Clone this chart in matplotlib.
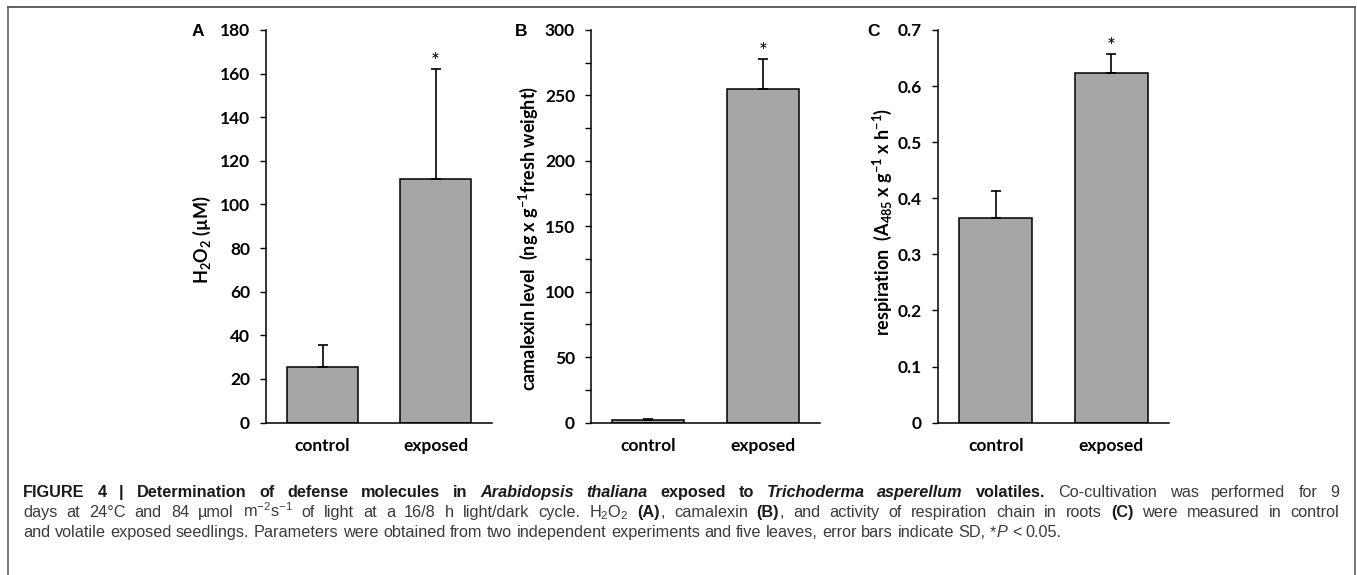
import matplotlib
matplotlib.use("Agg")
import matplotlib.pyplot as plt
from matplotlib.lines import Line2D
from matplotlib.ticker import MultipleLocator

# values
categories = ['control', 'exposed']
h2o2 = [25.3, 111.8]
h2o2_sd = [10.4, 50.3]
camalexin = [1.8, 254.8]
camalexin_sd = [1.2, 23.0]
respiration = [0.365, 0.623]
respiration_sd = [0.047, 0.034]
significant = [False, True]

W, H = 1357, 575
plt.rcParams['mathtext.default'] = 'regular'
plt.rcParams['axes.linewidth'] = 1.1

fig = plt.figure(figsize=(W / 100, H / 100), dpi=100)
fig.patch.set_facecolor('white')

lab_font = dict(family=['Lato', 'DejaVu Sans'], weight='bold', size=12.5)
ylab_font = dict(family=['Lato', 'DejaVu Sans'], weight='bold', size=13)
bar_color = '#a6a6a6'


#draw one bar panel with upward error bars and asterisks
def panel(rect, values, sds, ymax, step, minor, ylabel, label_x, label_y, letter_x):
    ax = fig.add_axes(rect)
    x = list(range(len(categories)))
    ax.bar(x, values, width=0.63, color=bar_color, edgecolor='black', linewidth=1.1, zorder=2)
    ax.errorbar(x, values, yerr=[[0] * len(values), sds], fmt='none', ecolor='black',
                elinewidth=1.2, capsize=3.5, capthick=1.2, zorder=3)
    for i in range(len(values)):
        if significant[i]:
            ax.annotate('*', (x[i], values[i] + sds[i]), xytext=(0, -2), textcoords='offset points',
                        ha='center', va='bottom', fontsize=15, family=['Lato', 'DejaVu Sans'])
    ax.set_xlim(-0.5, 1.5)
    ax.set_ylim(0, ymax)
    ax.yaxis.set_major_locator(MultipleLocator(step))
    if minor:
        ax.yaxis.set_minor_locator(MultipleLocator(minor))
    ax.set_xticks(x)
    ax.set_xticklabels(categories, **lab_font)
    for t in ax.get_yticklabels():
        t.set_fontproperties(matplotlib.font_manager.FontProperties(**lab_font))
    ax.tick_params(axis='x', length=0, pad=11)
    ax.tick_params(axis='y', which='both', direction='out', length=4.5, width=1, pad=7)
    ax.spines['top'].set_visible(False)
    ax.spines['right'].set_visible(False)
    ax.spines['bottom'].set_zorder(4)
    fig.text(label_x / W, 1 - label_y / H, ylabel, rotation=90, ha='center', va='center', **ylab_font)
    fig.text(letter_x / W, 1 - 32 / H, letter, ha='center', va='center',
             family=['Liberation Sans', 'DejaVu Sans'], weight='bold', size=12.5)
    return ax


bottom, height = 0.265, 0.683
letter = 'A'
axA = panel([266 / W, bottom, 226 / W, height], h2o2, h2o2_sd, 180, 20, None,
            r'H$_2$O$_2$ (µM)', 202, 240, 198)
letter = 'B'
axB = panel([591 / W, bottom, 229 / W, height], camalexin, camalexin_sd, 300, 50, 25,
            r'camalexin level  (ng x g$^{-1}$fresh weight)', 528, 238, 521)
letter = 'C'
axC = panel([938 / W, bottom, 231 / W, height], respiration, respiration_sd, 0.7, 0.1, None,
            r'respiration  (A$_{485}$ x g$^{-1}$ x h$^{-1}$)', 882, 222, 874)
axC.set_yticks([0, 0.1, 0.2, 0.3, 0.4, 0.5, 0.6, 0.7])
axC.set_yticklabels(['0', '0.1', '0.2', '0.3', '0.4', '0.5', '0.6', '0.7'], **lab_font)

# frame round the figure
frame = '#606060'
fig.add_artist(Line2D([7.5 / W, 1354.5 / W], [1 - 6.5 / H, 1 - 6.5 / H], color=frame, lw=1.4,
                      transform=fig.transFigure))
fig.add_artist(Line2D([7.5 / W, 7.5 / W], [1 - 6.5 / H, 0], color=frame, lw=1.2,
                      transform=fig.transFigure))
fig.add_artist(Line2D([1354.5 / W, 1354.5 / W], [1 - 6.5 / H, 0], color=frame, lw=1.2,
                      transform=fig.transFigure))

# caption, built from styled runs
cap_size = 11.7
styles = {
    'b': dict(weight='bold', style='normal', color='#1a1a1a'),
    'bi': dict(weight='bold', style='italic', color='#1a1a1a'),
    'n': dict(weight='normal', style='normal', color='#3a3a3a'),
    'i': dict(weight='normal', style='italic', color='#3a3a3a'),
}
line1 = [('FIGURE 4 | Determination of defense molecules in ', 'b'), ('Arabidopsis thaliana', 'bi'),
         (' exposed to ', 'b'), ('Trichoderma asperellum', 'bi'), (' volatiles.', 'b'),
         (' Co-cultivation was performed for 9', 'n')]
line2 = [('days at 24°C and 84 µmol m$^{-2}$s$^{-1}$ of light at a 16/8 h light/dark cycle. H$_2$O$_2$ ', 'n'),
         ('(A)', 'b'), (', camalexin ', 'n'), ('(B)', 'b'),
         (', and activity of respiration chain in roots ', 'n'), ('(C)', 'b'),
         (' were measured in control', 'n')]
line3 = [('and volatile exposed seedlings. Parameters were obtained from two independent experiments and five leaves, error bars indicate SD, *', 'n'),
         ('P', 'i'), (' < 0.05.', 'n')]

renderer = fig.canvas.get_renderer()


def make_text(s, st, x=0, y=0):
    return fig.text(x, y, s, va='baseline', ha='left', size=cap_size,
                    family=['Liberation Sans', 'DejaVu Sans'], **styles[st])


def width_of(s, st):
    t = make_text(s, st)
    w = t.get_window_extent(renderer).width
    t.remove()
    return w


def words_of(runs):
    words, current = [], []
    for text, st in runs:
        parts = text.split(' ')
        for i, p in enumerate(parts):
            if i > 0 and current:
                words.append(current)
                current = []
            if p:
                current.append((p, st))
    if current:
        words.append(current)
    return words


space = width_of('x x', 'n') - width_of('xx', 'n')


def place_line(runs, baseline, justify):
    words = words_of(runs)
    widths = [[width_of(p, st) for p, st in w] for w in words]
    total = sum(sum(w) for w in widths)
    gap = space
    if justify:
        gap = (1339 - 23 - total) / (len(words) - 1)
    x = 23
    for w, ws in zip(words, widths):
        for (p, st), pw in zip(w, ws):
            make_text(p, st, x / W, 1 - baseline / H)
            x += pw
        x += gap


place_line(line1, 497, True)
place_line(line2, 517, True)
place_line(line3, 537, False)

fig.savefig('out.png', dpi=100)
